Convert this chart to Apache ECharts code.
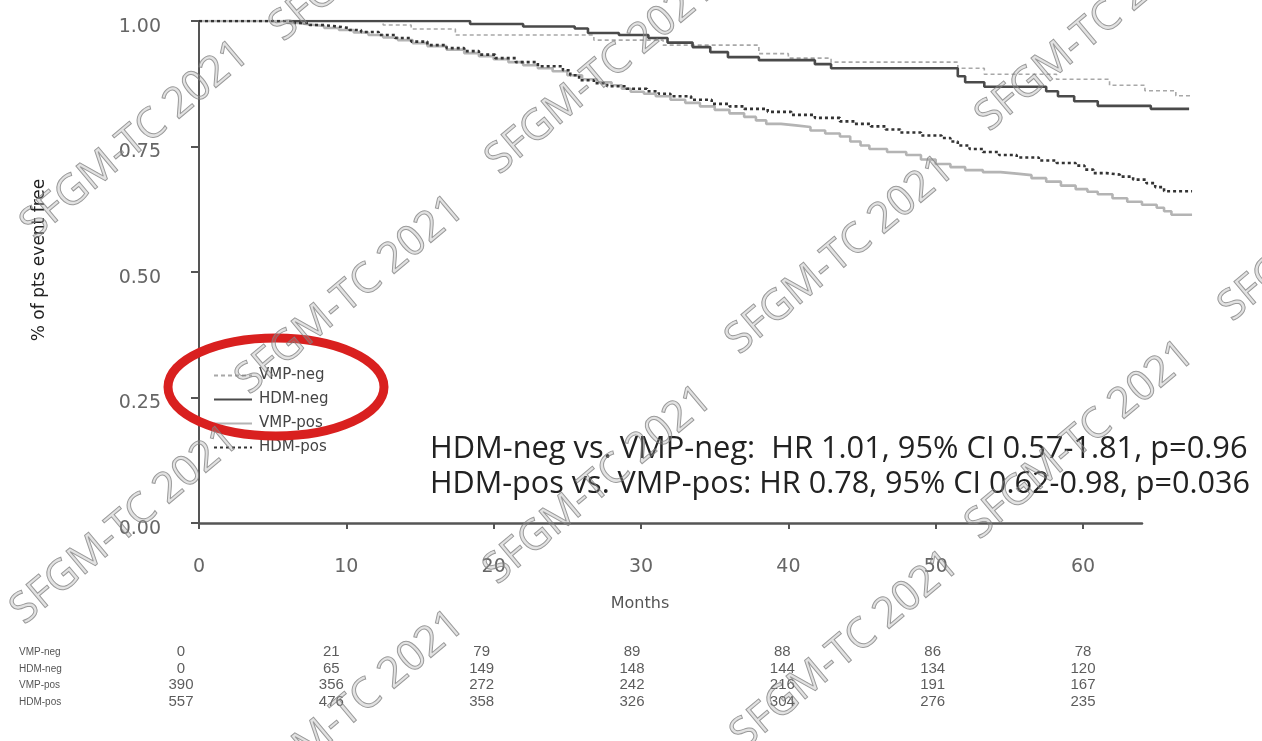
<!DOCTYPE html>
<html>
<head>
<meta charset="utf-8">
<script src="https://cdn.jsdelivr.net/npm/echarts@6/dist/echarts.min.js"></script>
<style>
html,body{margin:0;padding:0;background:#fff;}
#chart{width:1262px;height:741px;}
</style>
</head>
<body>
<div id="chart"></div>
<script>
// ---- data (months, survival) ----
const seriesNames = ['VMP-neg', 'HDM-neg', 'VMP-pos', 'HDM-pos'];
const vmpNeg = [[6.5,1.0],[12.5,0.992],[14.4,0.984],[17.4,0.972],[26.8,0.962],[31.5,0.952],[38.0,0.935],[40.0,0.926],[42.9,0.918],[51.5,0.906],[53.3,0.894],[58.2,0.884],[61.8,0.872],[64.2,0.861],[66.3,0.851],[67.3,0.851]];
const hdmNeg = [[6.3,1.0],[18.4,0.994],[22.0,0.989],[25.5,0.985],[26.4,0.976],[28.5,0.972],[30.5,0.966],[31.8,0.957],[33.5,0.948],[34.7,0.938],[35.9,0.928],[38.0,0.922],[41.8,0.914],[42.9,0.906],[51.5,0.890],[52.0,0.878],[53.3,0.869],[57.5,0.860],[58.3,0.850],[59.4,0.840],[61.0,0.831],[64.6,0.825],[67.2,0.825]];
const vmpPos = [[0,1.0],[5.5,1.0],[6.0,0.996],[6.8,0.993],[7.5,0.990],[8.5,0.986],[9.5,0.982],[10.5,0.977],[11.5,0.972],[12.5,0.967],[13.5,0.962],[14.5,0.956],[15.5,0.950],[16.8,0.943],[18.0,0.936],[19.0,0.930],[20.0,0.924],[21.0,0.918],[22.0,0.912],[23.0,0.906],[24.0,0.900],[25.0,0.892],[26.0,0.884],[27.0,0.878],[28.0,0.872],[28.7,0.865],[29.3,0.859],[30.2,0.855],[31.0,0.850],[32.0,0.843],[33.0,0.837],[34.0,0.830],[35.0,0.823],[36.0,0.816],[37.0,0.809],[37.8,0.802],[38.5,0.795],[39.5,0.792],[40.5,0.789],[41.5,0.782],[42.5,0.776],[43.5,0.770],[44.2,0.760],[44.9,0.752],[45.5,0.745],[46.7,0.739],[48.0,0.733],[49.0,0.724],[50.0,0.715],[51.0,0.709],[52.0,0.703],[53.2,0.699],[54.4,0.696],[55.5,0.693],[56.5,0.687],[57.5,0.680],[58.5,0.672],[59.5,0.665],[60.3,0.660],[61.0,0.655],[62.0,0.647],[63.0,0.640],[64.0,0.634],[65.0,0.628],[65.5,0.621],[66.0,0.614],[67.4,0.614]];
const hdmPos = [[0,1.0],[6.2,1.0],[6.5,0.996],[7.5,0.992],[8.4,0.989],[9.4,0.986],[10.2,0.982],[11.0,0.978],[12.2,0.972],[13.3,0.966],[14.4,0.959],[15.5,0.952],[16.8,0.946],[18.0,0.940],[19.0,0.933],[20.1,0.926],[21.5,0.918],[23.0,0.910],[24.7,0.902],[25.2,0.892],[25.8,0.882],[26.8,0.876],[27.7,0.870],[29.0,0.865],[30.4,0.860],[31.2,0.855],[32.0,0.850],[33.4,0.843],[34.8,0.835],[36.0,0.830],[37.0,0.825],[38.6,0.819],[40.2,0.813],[41.8,0.807],[43.5,0.800],[44.5,0.795],[45.6,0.790],[46.6,0.784],[47.6,0.778],[49.0,0.772],[50.4,0.767],[51.0,0.760],[51.5,0.752],[52.3,0.745],[53.2,0.739],[54.3,0.733],[55.5,0.728],[57.0,0.722],[58.2,0.717],[59.5,0.712],[60.1,0.704],[60.7,0.697],[61.6,0.694],[62.5,0.690],[63.4,0.684],[64.3,0.677],[64.9,0.669],[65.5,0.661],[67.4,0.661]];

const xTicks = [0, 10, 20, 30, 40, 50, 60];
const yTicks = [0, 0.25, 0.5, 0.75, 1.0];

// numbers at risk
const riskTimes = [0, 10, 20, 30, 40, 50, 60];
const riskVmpNeg = [0, 21, 79, 89, 88, 86, 78];
const riskHdmNeg = [0, 65, 149, 148, 144, 134, 120];
const riskVmpPos = [390, 356, 272, 242, 216, 191, 167];
const riskHdmPos = [557, 476, 358, 326, 304, 276, 235];

const yAxisTitle = '% of pts event free';
const xAxisTitle = 'Months';
const annotation1 = 'HDM-neg vs. VMP-neg:  HR 1.01, 95% CI 0.57-1.81, p=0.96';
const annotation2 = 'HDM-pos vs. VMP-pos: HR 0.78, 95% CI 0.62-0.98, p=0.036';
const watermarkText = 'SFGM-TC 2021';

// ---- styles ----
const styles = {
  'VMP-neg': { color: '#a8a8a8', width: 1.6, type: [4, 3] },
  'HDM-neg': { color: '#4a4a4a', width: 2.6, type: 'solid' },
  'VMP-pos': { color: '#b4b4b4', width: 2.6, type: 'solid' },
  'HDM-pos': { color: '#333333', width: 2.6, type: [3, 3] }
};
const curveData = { 'VMP-neg': vmpNeg, 'HDM-neg': hdmNeg, 'VMP-pos': vmpPos, 'HDM-pos': hdmPos };
const riskData = { 'VMP-neg': riskVmpNeg, 'HDM-neg': riskHdmNeg, 'VMP-pos': riskVmpPos, 'HDM-pos': riskHdmPos };

// month scale: 943 px for 64 months on the drawn axis
const pxPerMonth = 943 / 64;
const curveMax = 67.6;

const lineSeries = seriesNames.map(n => ({
  name: n,
  type: 'line',
  step: 'end',
  xAxisIndex: 2, yAxisIndex: 2,
  data: curveData[n],
  symbol: 'none',
  silent: true,
  color: styles[n].color,
  lineStyle: { color: styles[n].color, width: styles[n].width, type: styles[n].type },
  z: n === 'HDM-pos' || n === 'HDM-neg' ? 4 : 3
}));

const riskSeries = seriesNames.map(n => ({
  name: 'risk-' + n,
  type: 'scatter',
  xAxisIndex: 1, yAxisIndex: 1,
  symbolSize: 1,
  itemStyle: { color: 'rgba(0,0,0,0)' },
  silent: true,
  data: riskTimes.map((t, i) => [t, n, riskData[n][i]]),
  label: {
    show: true, position: 'inside',
    formatter: p => String(p.value[2]),
    fontFamily: 'Liberation Sans Narrow, Arial Narrow, Liberation Sans, sans-serif',
    fontSize: 15, color: '#333'
  }
}));

const wmPos = [[135,140],[384,-58],[600,75],[1090,32],[350,295],[840,255],[1333,222],[598,485],[1080,440],[125,525],[350,710],[845,650]];
const watermarks = wmPos.map(p => ({
  type: 'text', x: p[0], y: p[1], rotation: 40 * Math.PI / 180, z: 200, silent: true,
  style: {
    text: watermarkText, align: 'center', verticalAlign: 'middle',
    font: '42px "Open Sans", "Liberation Sans", sans-serif',
    fill: 'rgba(160,160,160,0.3)', stroke: 'rgba(120,120,120,0.75)', lineWidth: 1
  }
}));

const chart = echarts.init(document.getElementById('chart'), null, { renderer: 'canvas' });
chart.setOption({
  animation: false,
  backgroundColor: '#ffffff',
  grid: [
    { left: 199, top: 21, width: 943, height: 502, containLabel: false },
    { left: 181, right: 179, top: 644, height: 66, containLabel: false },
    { left: 199, top: 21, width: Math.round(pxPerMonth * curveMax), height: 502, containLabel: false }
  ],
  xAxis: [
    {
      type: 'value', gridIndex: 0, min: 0, max: 64,
      splitLine: { show: false },
      axisLine: { show: true, onZero: false, lineStyle: { color: '#555', width: 2.5 } },
      axisTick: { show: true, customValues: xTicks, length: 6, lineStyle: { color: '#555', width: 2 } },
      axisLabel: { customValues: xTicks, margin: 35, fontFamily: 'DejaVu Sans', fontSize: 19, color: '#666' }
    },
    { type: 'value', gridIndex: 1, min: 0, max: 60, show: false },
    { type: 'value', gridIndex: 2, min: 0, max: curveMax, show: false }
  ],
  yAxis: [
    {
      type: 'value', gridIndex: 0, min: 0, max: 1, interval: 0.25,
      splitLine: { show: false },
      axisLine: { show: true, lineStyle: { color: '#555', width: 2 } },
      axisTick: { show: true, customValues: yTicks, length: 8, lineStyle: { color: '#555', width: 2 } },
      axisLabel: { margin: 38, verticalAlign: 'top', lineHeight: 12, formatter: v => v.toFixed(2), fontFamily: 'DejaVu Sans', fontSize: 19, color: '#666' }
    },
    {
      type: 'category', gridIndex: 1, data: seriesNames, inverse: true,
      axisLine: { show: false }, axisTick: { show: false }, splitLine: { show: false },
      axisLabel: { align: 'left', margin: 162, fontFamily: 'Liberation Sans Narrow, Liberation Sans, sans-serif', fontSize: 10, color: '#555' }
    },
    { type: 'value', gridIndex: 2, min: 0, max: 1, show: false }
  ],
  legend: {
    data: seriesNames.map(n => ({ name: n, itemStyle: { opacity: 0 } })),
    orient: 'vertical', left: 208, top: 363,
    itemWidth: 38, itemHeight: 14, itemGap: 9,
    textStyle: { fontFamily: 'DejaVu Sans', fontSize: 15, color: '#444', padding: [0, 0, 0, 2] },
    selectedMode: false
  },
  series: lineSeries.concat(riskSeries),
  graphic: [
    { type: 'text', x: 40, y: 260, rotation: Math.PI / 2, silent: true,
      style: { text: yAxisTitle, align: 'center', verticalAlign: 'middle', font: '17px "DejaVu Sans"', fill: '#222' } },
    { type: 'text', x: 640, y: 604, silent: true,
      style: { text: xAxisTitle, align: 'center', verticalAlign: 'middle', font: '16px "DejaVu Sans"', fill: '#555' } },
    { type: 'text', x: 430, y: 449, silent: true, z: 50,
      style: { text: annotation1, align: 'left', verticalAlign: 'middle', font: '30.8px "Open Sans", "Liberation Sans", sans-serif', fill: '#222' } },
    { type: 'text', x: 430, y: 484, silent: true, z: 50,
      style: { text: annotation2, align: 'left', verticalAlign: 'middle', font: '30.6px "Open Sans", "Liberation Sans", sans-serif', fill: '#222' } },
    { type: 'ellipse', silent: true, z: 150, shape: { cx: 276, cy: 387, rx: 108, ry: 49 },
      style: { fill: 'none', stroke: '#d9201f', lineWidth: 9 } }
  ].concat(watermarks)
});
</script>
</body>
</html>
